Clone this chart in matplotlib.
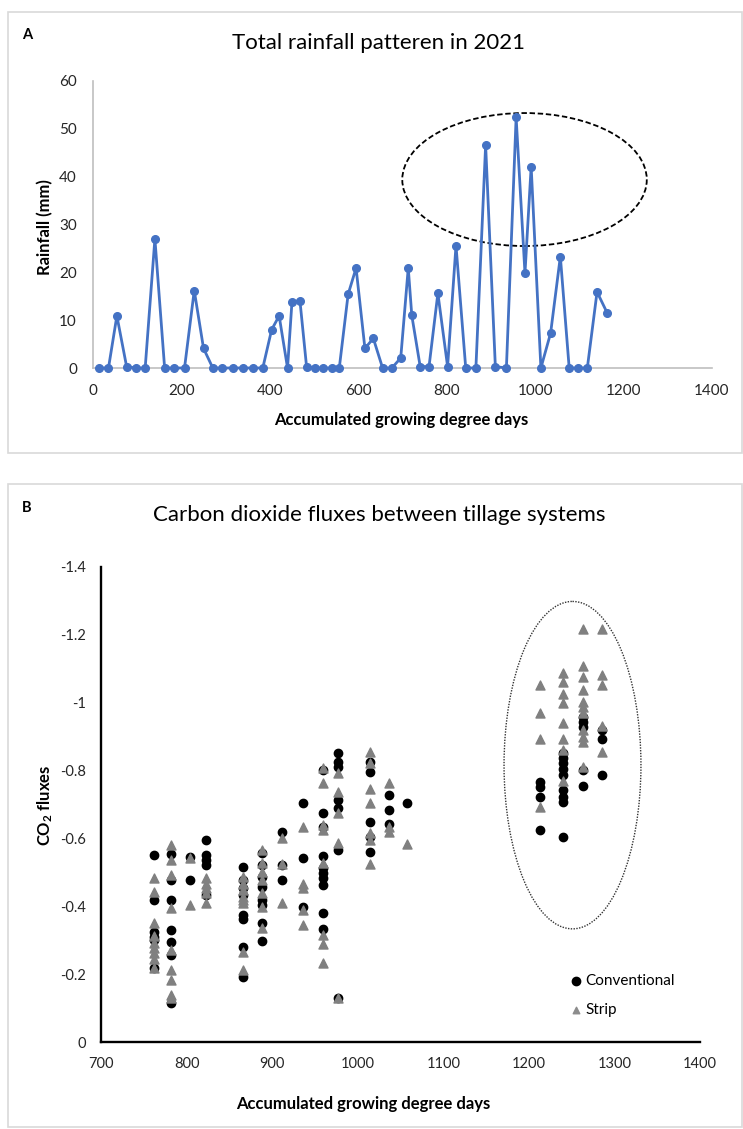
import matplotlib
matplotlib.use('Agg')
import matplotlib.pyplot as plt
from matplotlib.patches import Ellipse, Rectangle

# ---- panel A: rainfall vs accumulated GDD ----
gdd_rain = [14, 35, 54, 76, 97, 118, 140, 162, 184, 207,
            229, 250, 271, 292, 317, 340, 363, 384, 404, 421,
            440, 450, 468, 483, 501, 521, 541, 557, 577, 595,
            615, 634, 655, 676, 696, 713, 721, 740, 760, 780,
            802, 821, 843, 866, 888, 910, 935, 957, 977, 991,
            1013, 1035, 1057, 1077, 1097, 1118, 1140, 1163]
rainfall = [0, 0, 10.9, 0.3, 0, 0, 27.0, 0, 0, 0,
            16.2, 4.1, 0, 0, 0, 0, 0, 0, 8.0, 10.9,
            0, 13.8, 14.1, 0.3, 0, 0, 0, 0, 15.4, 20.9,
            4.1, 6.2, 0, 0, 2.1, 20.9, 11.0, 0.3, 0.3, 15.6,
            0.3, 25.6, 0, 0, 46.6, 0.3, 0, 52.4, 19.8, 42.1,
            0, 7.3, 23.3, 0, 0, 0, 15.9, 11.5]

# ---- panel B: CO2 fluxes, one column of readings per sampling date ----
conv_cols = {
    762: [-0.551, -0.418, -0.325, -0.310, -0.300, -0.219],
    782: [-0.553, -0.478, -0.418, -0.330, -0.296, -0.256, -0.116],
    804: [-0.544, -0.478],
    823: [-0.595, -0.551, -0.536, -0.522, -0.433],
    866: [-0.517, -0.477, -0.453, -0.433, -0.374, -0.364, -0.281, -0.191],
    888: [-0.556, -0.522, -0.487, -0.458, -0.418, -0.404, -0.350, -0.299],
    911: [-0.620, -0.522, -0.478],
    936: [-0.703, -0.541, -0.399],
    959: [-0.802, -0.674, -0.635, -0.549, -0.512, -0.497, -0.482, -0.463, -0.379, -0.332],
    977: [-0.851, -0.826, -0.811, -0.713, -0.689, -0.566, -0.130],
    1014: [-0.826, -0.797, -0.649, -0.605, -0.561],
    1037: [-0.728, -0.684, -0.644],
    1058: [-0.703],
    1213: [-0.767, -0.752, -0.721, -0.625],
    1240: [-0.851, -0.836, -0.821, -0.806, -0.787, -0.743, -0.723, -0.708, -0.605],
    1263: [-0.959, -0.944, -0.929, -0.802, -0.754],
    1286: [-0.919, -0.894, -0.787],
}
strip_cols = {
    762: [-0.482, -0.443, -0.350, -0.311, -0.291, -0.276, -0.261, -0.246, -0.217],
    782: [-0.581, -0.536, -0.492, -0.394, -0.271, -0.212, -0.183, -0.139, -0.129],
    804: [-0.541, -0.404],
    823: [-0.482, -0.467, -0.453, -0.438, -0.409],
    866: [-0.487, -0.467, -0.448, -0.428, -0.418, -0.409, -0.266, -0.212],
    888: [-0.566, -0.527, -0.502, -0.477, -0.438, -0.399, -0.335],
    911: [-0.600, -0.525, -0.409],
    936: [-0.635, -0.467, -0.453, -0.389, -0.344],
    959: [-0.807, -0.762, -0.640, -0.625, -0.527, -0.315, -0.290, -0.232],
    977: [-0.792, -0.738, -0.674, -0.586, -0.130],
    1014: [-0.856, -0.821, -0.745, -0.703, -0.615, -0.595, -0.524],
    1037: [-0.762, -0.635, -0.620],
    1058: [-0.584],
    1213: [-1.052, -0.969, -0.892, -0.693],
    1240: [-1.087, -1.062, -1.026, -0.998, -0.941, -0.892, -0.861, -0.770],
    1263: [-1.216, -1.108, -1.077, -1.038, -1.003, -0.988, -0.969, -0.919, -0.899, -0.885, -0.811],
    1286: [-1.216, -1.082, -1.052, -0.931, -0.856],
}
flux_ticks = [0, -0.2, -0.4, -0.6, -0.8, -1.0, -1.2, -1.4]
flux_tick_labels = ['0', '-0.2', '-0.4', '-0.6', '-0.8', '-1', '-1.2', '-1.4']

conv_gdd = [g for g, v in conv_cols.items() for _ in v]
conv_flux = [f for v in conv_cols.values() for f in v]
strip_gdd = [g for g, v in strip_cols.items() for _ in v]
strip_flux = [f for v in strip_cols.values() for f in v]

W, H = 743, 1129


def fx(px):
    return px / W


def fy(py):
    return 1 - py / H


plt.rcParams['font.family'] = ['Lato', 'DejaVu Sans']
plt.rcParams['mathtext.default'] = 'regular'

fig = plt.figure(figsize=(W / 100, H / 100), dpi=100)

# light grey frames around each panel
for top, bottom in [(12, 453), (484, 1127)]:
    fig.patches.append(Rectangle((fx(8), fy(bottom)), fx(742) - fx(8), fy(top) - fy(bottom),
                                 transform=fig.transFigure, fill=False,
                                 edgecolor='#d9d9d9', lw=1.2))

# ---------------- A ----------------
ax1 = fig.add_axes([fx(93), fy(368), fx(712) - fx(93), fy(81) - fy(368)])
ax1.plot(gdd_rain, rainfall, color='#4472c4', lw=2.0, marker='o', ms=5.5, clip_on=False, zorder=3)
ax1.set_xlim(0, 1400)
ax1.set_ylim(0, 60)
ax1.set_xticks(range(0, 1401, 200))
ax1.set_yticks(range(0, 61, 10))
for s in ['top', 'right']:
    ax1.spines[s].set_visible(False)
for s in ['left', 'bottom']:
    ax1.spines[s].set_color('#bfbfbf')
    ax1.spines[s].set_linewidth(1.2)
ax1.tick_params(length=0, pad=11.5, labelsize=11, labelcolor='#262626')
ax1.add_patch(Ellipse((976, 39.4), 553, 27.8, fill=False, ec='black',
                      ls=(0, (3, 1.5)), lw=1.3))

fig.text(fx(27), fy(35), 'A', ha='center', va='center', fontsize=10.5, fontweight='bold')
fig.text(fx(379), fy(43), 'Total rainfall patteren in 2021', ha='center', va='center', fontsize=16)
fig.text(fx(401), fy(420), 'Accumulated growing degree days', ha='center', va='center',
         fontsize=12, fontweight='bold')
fig.text(fx(45), fy(227), 'Rainfall (mm)', ha='center', va='center', rotation=90,
         fontsize=12, fontweight='bold')

# ---------------- B ----------------
ax2 = fig.add_axes([fx(101), fy(1042), fx(700) - fx(101), fy(567) - fy(1042)])
ax2.scatter(conv_gdd, conv_flux, s=36, c='black', marker='o', label='Conventional', zorder=3)
ax2.scatter(strip_gdd, strip_flux, s=42, c='#808080', marker='^', label='Strip', zorder=4)
ax2.set_xlim(700, 1400)
ax2.set_ylim(0, -1.4)
ax2.set_xticks(range(700, 1401, 100))
ax2.set_yticks(flux_ticks)
ax2.set_yticklabels(flux_tick_labels)
for s in ['top', 'right']:
    ax2.spines[s].set_visible(False)
for s in ['left', 'bottom']:
    ax2.spines[s].set_linewidth(1.7)
ax2.tick_params(length=0, pad=10.8, labelsize=10.5, labelcolor='#262626')
ax2.add_patch(Ellipse((1251, -0.816), 160, 0.965, fill=False, ec='#333333',
                      ls=(0, (1, 1)), lw=1.0))
leg = ax2.legend(loc='upper left', bbox_to_anchor=(fx(561), fy(966)), bbox_transform=fig.transFigure,
                 frameon=False, fontsize=11, handletextpad=0.1, labelspacing=1.0,
                 borderpad=0, handlelength=1.0)
leg.legend_handles[1].set_sizes([22])
leg.legend_handles[1].set_color('#8c8c8c')

fig.text(fx(27), fy(508), 'B', ha='center', va='center', fontsize=10.5, fontweight='bold')
fig.text(fx(379), fy(515), 'Carbon dioxide fluxes between tillage systems', ha='center',
         va='center', fontsize=16)
fig.text(fx(363), fy(1104), 'Accumulated growing degree days', ha='center', va='center',
         fontsize=12, fontweight='bold')
fig.text(fx(45), fy(805), 'CO$_2$ fluxes', ha='center', va='center', rotation=90,
         fontsize=12, fontweight='bold')

fig.savefig('out.png', dpi=100)
